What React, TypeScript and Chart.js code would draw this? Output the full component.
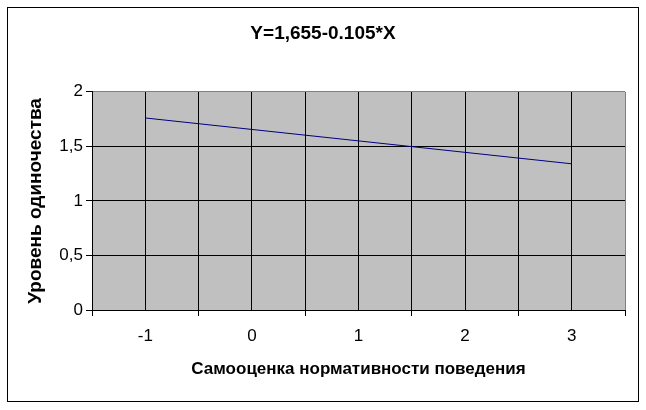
import React, { useEffect, useRef } from "react";
import { Chart, registerables } from "chart.js";

Chart.register(...registerables);

const chartTitle = "Y=1,655-0.105*X";
const xTitle = "Самооценка нормативности поведения";
const yTitle = "Уровень одиночества";
const xValues = [-1, 0, 1, 2, 3];
const yValues = [1.76, 1.655, 1.55, 1.445, 1.34];
const xMin = -1.5;
const xMax = 3.5;
const yMin = 0;
const yMax = 2;
const yStep = 0.5;

const FONT = "'Liberation Sans', Arial, sans-serif";

const bgPlugin = {
  id: "excelBg",
  beforeDraw(chart: any) {
    const { ctx, width, height, chartArea } = chart;
    ctx.save();
    ctx.fillStyle = "#ffffff";
    ctx.fillRect(0, 0, width, height);
    ctx.strokeStyle = "#000000";
    ctx.lineWidth = 1;
    ctx.strokeRect(7.5, 7.5, 631, 394);
    ctx.fillStyle = "#C0C0C0";
    ctx.fillRect(chartArea.left, chartArea.top, chartArea.right - chartArea.left, chartArea.bottom - chartArea.top);
    ctx.restore();
  },
};

export default function App() {
  const ref = useRef<HTMLCanvasElement>(null);
  useEffect(() => {
    document.body.style.margin = "0";
    const chart = new Chart(ref.current!, {
      type: "line",
      data: {
        datasets: [
          {
            data: xValues.map((x, i) => ({ x, y: yValues[i] })),
            borderColor: "#000080",
            borderWidth: 1,
            pointRadius: 0,
            fill: false,
            tension: 0,
          },
        ],
      },
      options: {
        animation: false,
        responsive: true,
        maintainAspectRatio: false,
        layout: { padding: { left: 21, right: 21, top: 0, bottom: 0 } },
        plugins: {
          legend: { display: false },
          tooltip: { enabled: false },
          title: {
            display: true,
            text: chartTitle,
            color: "#000",
            font: { family: FONT, size: 19, weight: "bold" },
            padding: { top: 22, bottom: 47 },
          },
        },
        scales: {
          x: {
            type: "linear",
            min: xMin,
            max: xMax,
            afterFit(s: any) {
              s.height = 100;
            },
            ticks: {
              stepSize: 0.5,
              autoSkip: false,
              maxRotation: 0,
              color: "#000",
              padding: 10,
              font: { family: FONT, size: 17 },
              callback: (v: any) => (Number.isInteger(v) ? String(v) : ""),
            },
            grid: {
              color: (c: any) => (c.tick && c.tick.value === xMax ? "#808080" : "#000"),
              tickColor: (c: any) => (c.tick && Number.isInteger(c.tick.value) ? "rgba(0,0,0,0)" : "#000"),
              tickLength: 6,
              lineWidth: 1,
            },
            border: { display: true, color: "#000" },
            title: {
              display: true,
              text: xTitle,
              color: "#000",
              font: { family: FONT, size: 17, weight: "bold" },
              padding: { top: 0, bottom: 30 },
            },
          },
          y: {
            min: yMin,
            max: yMax,
            afterFit(s: any) {
              s.width = 71;
            },
            ticks: {
              stepSize: yStep,
              color: "#000",
              padding: 3,
              font: { family: FONT, size: 17 },
              callback: (v: any) => String(v).replace(".", ","),
            },
            grid: {
              color: (c: any) => (c.tick && c.tick.value === yMax ? "#808080" : "#000"),
              tickColor: "#000",
              tickLength: 6,
              lineWidth: 1,
            },
            border: { display: true, color: "#000" },
            title: {
              display: true,
              text: yTitle,
              color: "#000",
              font: { family: FONT, size: 19, weight: "bold" },
              padding: { top: 3, bottom: 0 },
            },
          },
        },
      },
      plugins: [bgPlugin],
    });
    return () => chart.destroy();
  }, []);
  return (
    <div style={{ position: "absolute", left: 0, top: 0, width: 646, height: 410 }}>
      <canvas ref={ref} />
    </div>
  );
}
